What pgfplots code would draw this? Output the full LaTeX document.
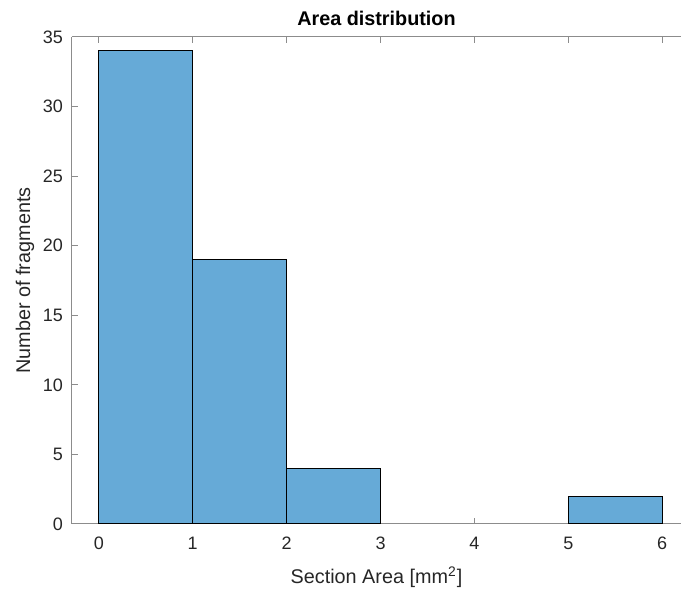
\documentclass[border=0pt]{standalone}
\usepackage{pgfplots}
\pgfplotsset{compat=1.18}
\usepackage{fontspec}
\setmainfont{Liberation Sans}
\definecolor{barfill}{RGB}{102,170,215}
\definecolor{axgrey}{RGB}{140,140,140}
\definecolor{txt}{RGB}{38,38,38}
\begin{document}
\begin{tikzpicture}
\begin{axis}[
  name=ax, at={(0,0)}, anchor=south west,
  scale only axis, width=304.5pt, height=243.5pt,
  xmin=-0.286, xmax=6.2, ymin=0, ymax=35,
  axis x line*=box, axis y line*=left,
  axis line style={axgrey, line width=0.5pt},
  xtick={0,1,2,3,4,5,6}, ytick={0,5,10,15,20,25,30,35},
  tick align=inside, major tick length=3pt,
  tick style={axgrey, line width=0.5pt},
  /pgf/number format/assume math mode=true,
  ticklabel style={font=\fontsize{9}{10}\selectfont, text=txt},
  xticklabel style={yshift=-3pt},
  yticklabel style={xshift=-1pt},
  xlabel={Section Area [mm\textsuperscript{2}]},
  ylabel={Number of fragments},
  label style={font=\fontsize{9.9}{11}\selectfont, text=txt},
  xlabel style={at={(axis description cs:0.5,0)}, anchor=base, yshift=-30pt},
  ylabel style={at={(axis description cs:0,0.5)}, anchor=center, yshift=23.5pt},
  title={Area distribution},
  title style={font=\fontsize{9.9}{11}\selectfont\bfseries, text=black, at={(axis description cs:0.5,1)}, anchor=center, yshift=3.5pt},
  clip=false,
]
\addplot[ybar interval, fill=barfill, draw=black, line width=0.5pt] coordinates {(0,34) (1,19) (2,4) (3,4)};
\addplot[ybar interval, fill=barfill, draw=black, line width=0.5pt] coordinates {(5,2) (6,2)};
\end{axis}
\pgfresetboundingbox
\path[use as bounding box] (-36pt,-34.5pt) rectangle (304.5pt,262pt);
\end{tikzpicture}
\end{document}
